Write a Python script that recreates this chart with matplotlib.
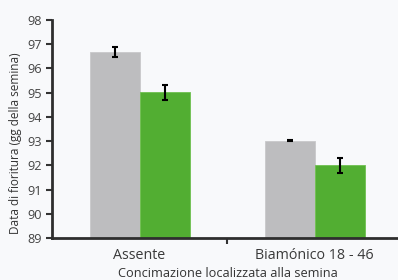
import matplotlib
matplotlib.use("Agg")
import matplotlib.pyplot as plt
import matplotlib.transforms as mtransforms
from matplotlib.ticker import FixedLocator

categories = ["Assente", "Biamónico 18 - 46"]
gray_vals = [96.67, 93.02]
gray_err = [0.19, 0.02]
green_vals = [95.01, 92.01]
green_err = [0.31, 0.31]
yticks = [89, 90, 91, 92, 93, 94, 95, 96, 97, 98]

plt.rcParams['font.family'] = ['Open Sans', 'DejaVu Sans']
bg = "#f8f9fb"
W, H = 398, 280
fig = plt.figure(figsize=(W/100, H/100), dpi=100, facecolor=bg)
ax = fig.add_axes([52/W, 1-238.3/H, (W-52)/W, (238.3-19.7)/H])
ax.set_facecolor(bg)

w = 50/175
x = list(range(len(categories)))
ax.bar([i - w/2 for i in x], gray_vals, width=w, color="#bdbdbf",
       edgecolor="#c9c9cb", linewidth=0.6, zorder=2)
ax.bar([i + w/2 for i in x], green_vals, width=w, color="#52ae32",
       edgecolor="#6fc050", linewidth=0.6, zorder=2)
ax.errorbar([i - w/2 for i in x], gray_vals, yerr=gray_err, fmt='none',
            ecolor="black", elinewidth=1.5, capsize=2.4, capthick=1.5, zorder=3)
ax.errorbar([i + w/2 for i in x], green_vals, yerr=green_err, fmt='none',
            ecolor="black", elinewidth=1.5, capsize=2.4, capthick=1.5, zorder=3)

ax.set_ylim(89, 98)
ax.set_xlim(-0.5, 0.5 + (W-227)/175)
ax.set_yticks(yticks)
ax.set_xticks(x)
ax.set_xticklabels(categories, fontsize=10.3, color="#3a3a3a")
for lbl, dx in zip(ax.get_xticklabels(), [8, -4]):
    lbl.set_transform(lbl.get_transform() +
                      mtransforms.ScaledTranslation(dx/100, 0, fig.dpi_scale_trans))
ax.xaxis.set_minor_locator(FixedLocator([0.5]))
ax.tick_params(axis='x', which='major', length=0, pad=7)
ax.tick_params(axis='x', which='minor', length=4, width=1.5, color="#333333", direction='out')
ax.tick_params(axis='y', length=4, width=1.5, color="#333333", labelsize=9.2,
               labelcolor="#444444", pad=3)
for s in ['top', 'right']:
    ax.spines[s].set_visible(False)
for s in ['left', 'bottom']:
    ax.spines[s].set_linewidth(2)
    ax.spines[s].set_color("#2e2e2e")

fig.text(15.5/W, 1-143.5/H, "Data di fioritura (gg della semina)", rotation=90,
         ha='center', va='center', fontsize=8.5, color="#333333")
fig.text(228/W, 1-273.5/H, "Concimazione localizzata alla semina",
         ha='center', va='center', fontsize=9.2, color="#333333")

fig.savefig("out.png", dpi=100, facecolor=bg)
